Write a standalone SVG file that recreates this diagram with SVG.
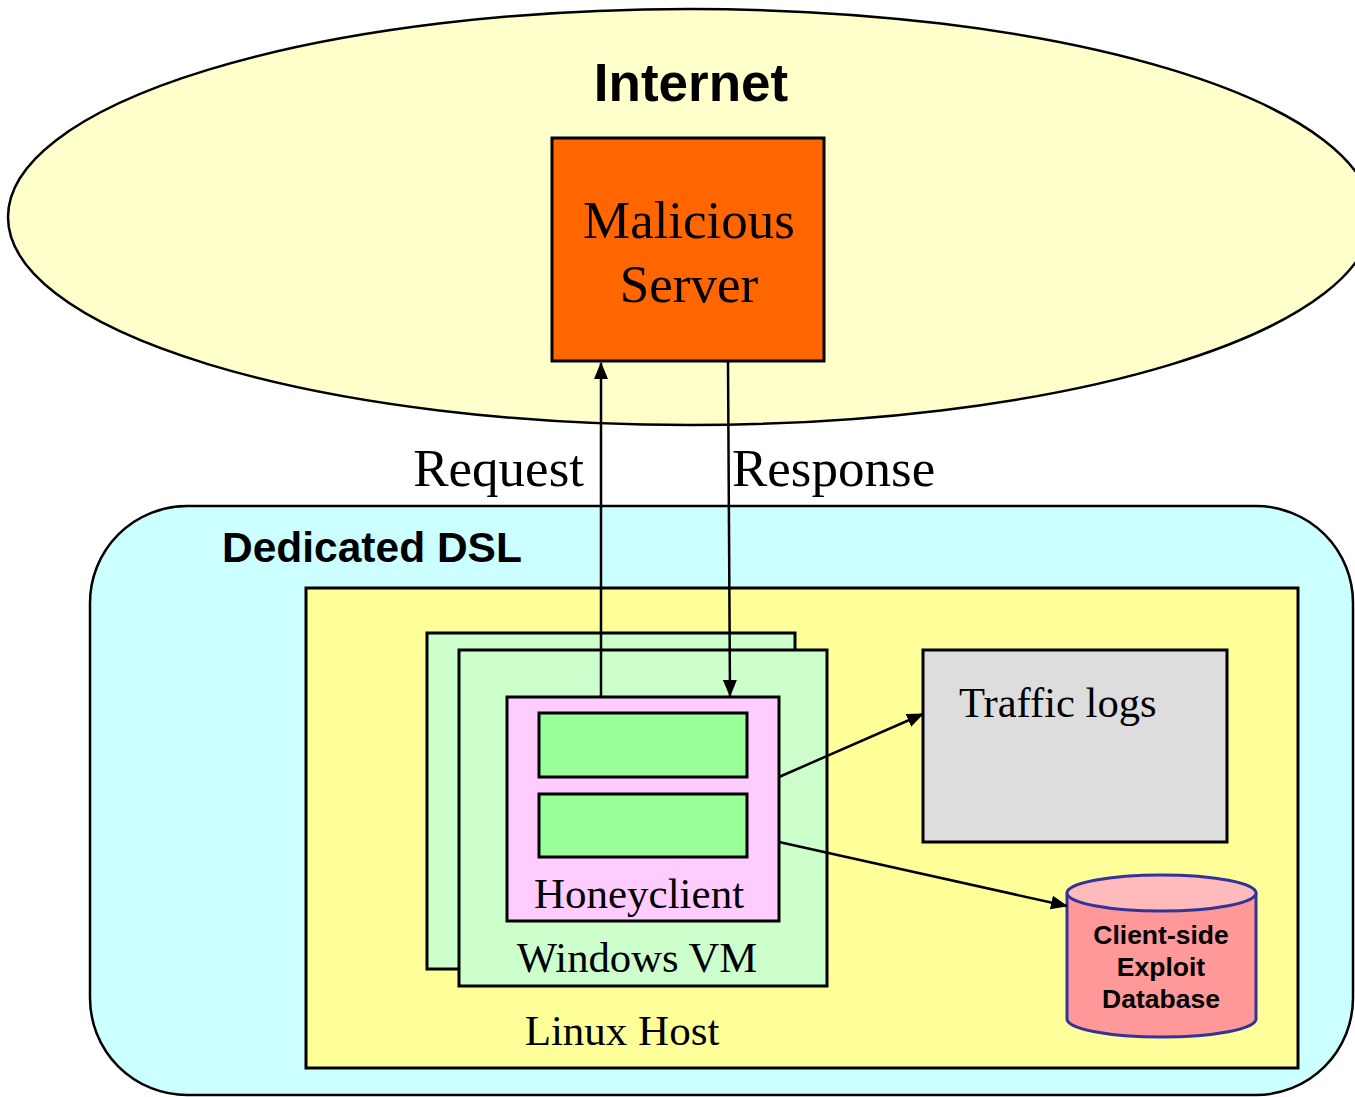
<svg xmlns="http://www.w3.org/2000/svg" width="1355" height="1097" viewBox="0 0 1355 1097">
<defs>
<marker id="ah2" markerWidth="17" markerHeight="14" refX="16" refY="7" orient="auto" markerUnits="userSpaceOnUse" viewBox="0 0 17 14">
<path d="M0,0 L17,7 L0,14 z" fill="#000"/>
</marker>
</defs>
<style>
.box{stroke:#000;stroke-width:3}
.serif{font-family:"Liberation Serif","Times New Roman",serif;fill:#000}
.sans{font-family:"Liberation Sans",Arial,sans-serif;font-weight:bold;fill:#000}
.conn{stroke:#000;stroke-width:2.5;fill:none}
</style>
<rect width="1355" height="1097" fill="#fff"/>
<g id="internet">
<ellipse cx="690" cy="217" rx="682" ry="208" fill="#FFFFCC" stroke="#000" stroke-width="2.5"/>
<text x="691" y="101" class="sans" font-size="53" text-anchor="middle">Internet</text>
</g>
<g id="malicious-server">
<rect x="552" y="138" width="272" height="223" fill="#FF6600" class="box"/>
<text x="689" y="238" class="serif" font-size="53" text-anchor="middle">Malicious</text>
<text x="689" y="302" class="serif" font-size="53" text-anchor="middle">Server</text>
</g>
<g id="dsl">
<rect x="90" y="506" width="1263" height="589" rx="97" ry="97" fill="#CCFFFF" stroke="#000" stroke-width="2.5"/>
<text x="222" y="562" class="sans" font-size="42.5">Dedicated DSL</text>
</g>
<g id="linux-host">
<rect x="306" y="588" width="992" height="480" fill="#FFFF99" class="box"/>
<text x="622" y="1045" class="serif" font-size="43" text-anchor="middle">Linux Host</text>
</g>
<g id="windows-vm-back">
<rect x="427" y="633" width="368" height="336" fill="#CCFFCC" class="box"/>
</g>
<g id="windows-vm">
<rect x="459" y="650" width="368" height="336" fill="#CCFFCC" class="box"/>
<text x="637" y="972" class="serif" font-size="42.7" text-anchor="middle">Windows VM</text>
</g>
<g id="honeyclient">
<rect x="507" y="697" width="272" height="224" fill="#FFCCFF" class="box"/>
<rect x="539" y="713" width="208" height="64" fill="#99FF99" class="box"/>
<rect x="539" y="794" width="208" height="63" fill="#99FF99" class="box"/>
<text x="639" y="908" class="serif" font-size="43" text-anchor="middle">Honeyclient</text>
</g>
<g id="traffic-logs">
<rect x="923" y="650" width="304" height="192" fill="#DDDDDD" class="box"/>
<text x="959" y="717" class="serif" font-size="42.6">Traffic logs</text>
</g>
<g id="exploit-db">
<path d="M1067,893 L1067,1019 A94.5,18 0 0 0 1256,1019 L1256,893" fill="#FF9999" stroke="#333399" stroke-width="3"/>
<ellipse cx="1161.5" cy="893" rx="94.5" ry="18" fill="#FFBBBB" stroke="#333399" stroke-width="3"/>
<text x="1161" y="944" class="sans" font-size="26.5" text-anchor="middle">Client-side</text>
<text x="1161" y="976" class="sans" font-size="26.5" text-anchor="middle">Exploit</text>
<text x="1161" y="1008" class="sans" font-size="26.5" text-anchor="middle">Database</text>
</g>
<g id="connectors">
<line x1="601" y1="697" x2="601" y2="363" class="conn" marker-end="url(#ah2)"/>
<line x1="728" y1="362" x2="730" y2="696" class="conn" marker-end="url(#ah2)"/>
<line x1="779" y1="777" x2="923" y2="714" class="conn" marker-end="url(#ah2)"/>
<line x1="779" y1="842" x2="1067" y2="906" class="conn" marker-end="url(#ah2)"/>
<text x="584" y="486" class="serif" font-size="53" text-anchor="end">Request</text>
<text x="732" y="486" class="serif" font-size="53">Response</text>
</g>
</svg>
